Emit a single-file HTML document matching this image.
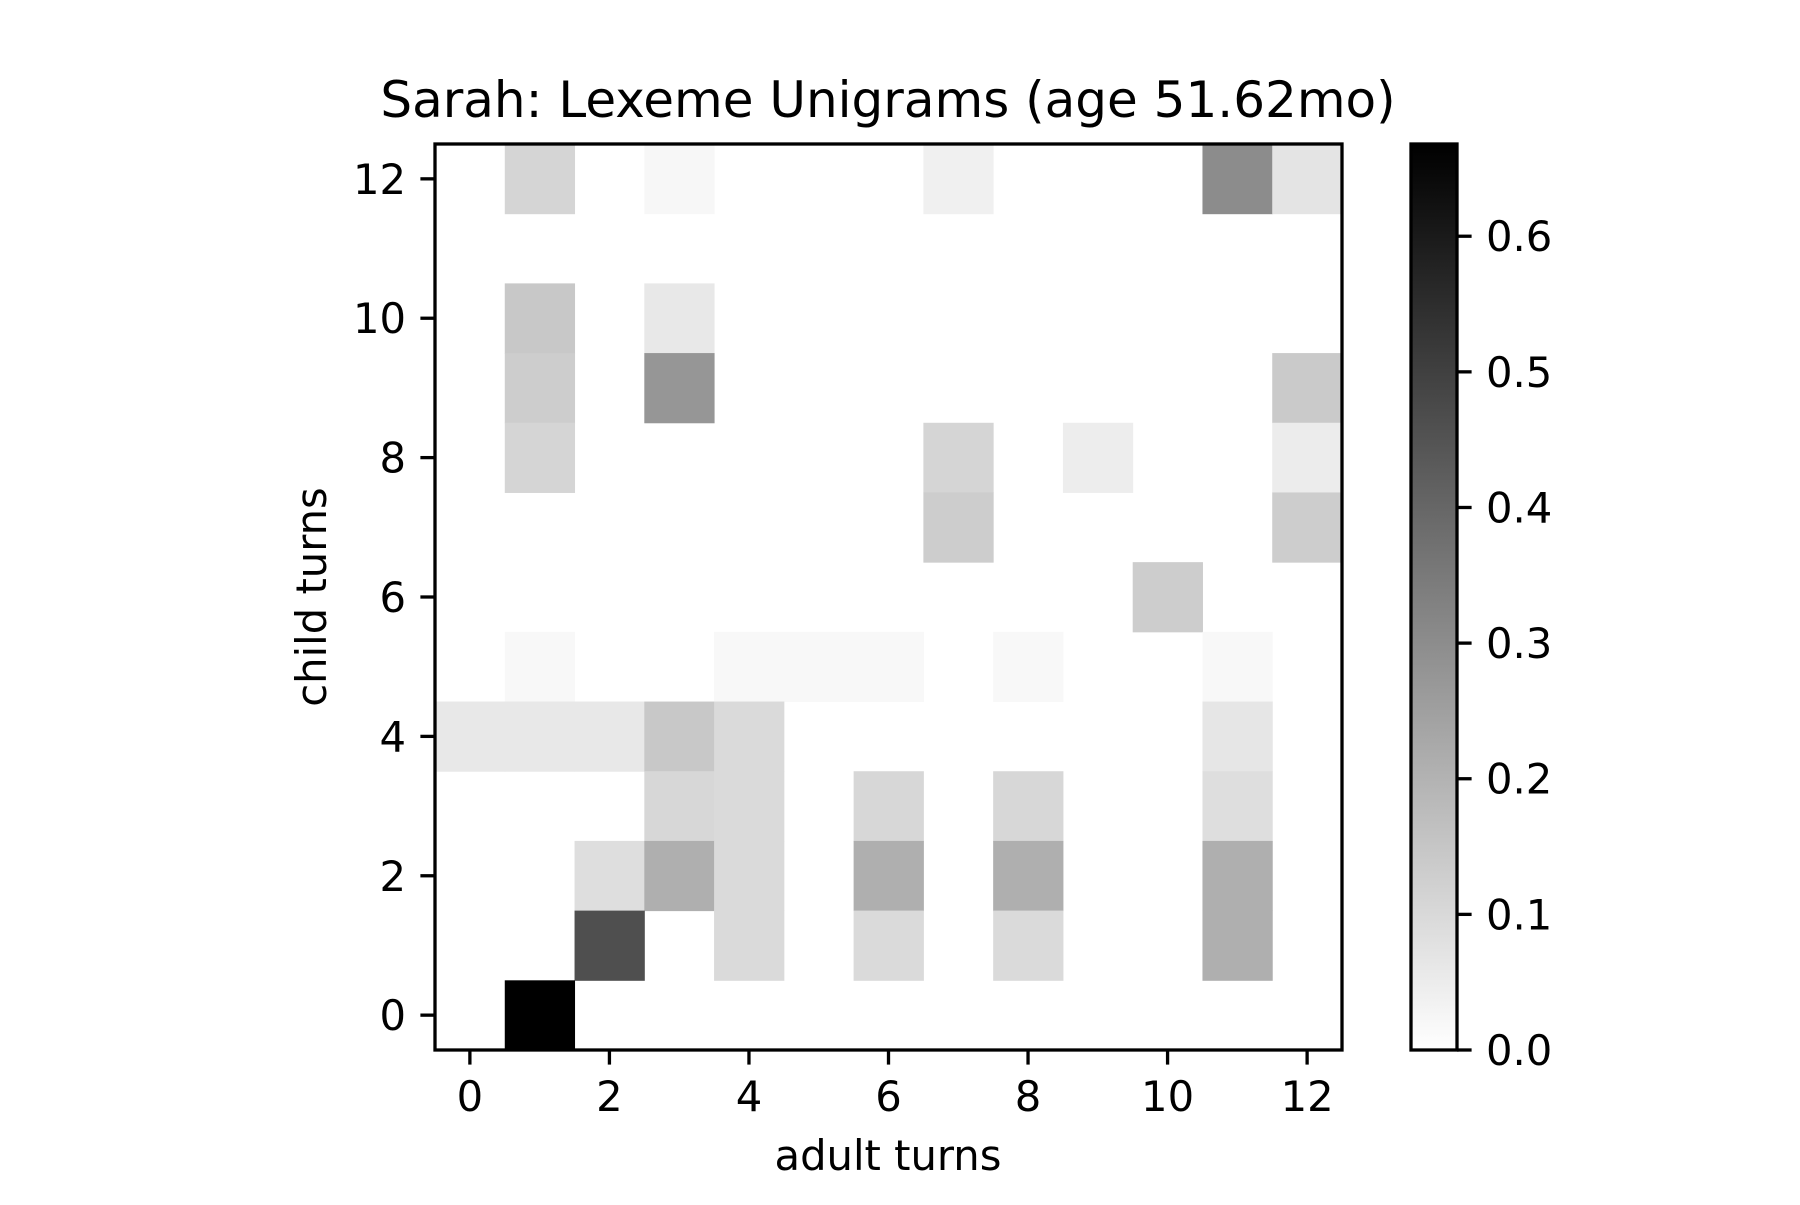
<!DOCTYPE html>
<html><head><meta charset="utf-8"><style>
html,body{margin:0;padding:0;background:#fff;}
text{font-family:"DejaVu Sans","Liberation Sans",sans-serif;fill:#000;}
</style></head><body>
<svg id="chart" width="1800" height="1200" viewBox="0 0 1800 1200" xmlns="http://www.w3.org/2000/svg">
<defs><linearGradient id="cbgrad" x1="0" y1="1" x2="0" y2="0"><stop offset="0" stop-color="#fff"/><stop offset="1" stop-color="#000"/></linearGradient></defs>
<text x="888" y="117" font-size="50" text-anchor="middle">Sarah: Lexeme Unigrams (age 51.62mo)</text>
<g id="cells"></g><g id="axes"></g>
<rect x="1411" y="144" width="46" height="906" fill="url(#cbgrad)" stroke="#000" stroke-width="3.3"/>
<g id="cbaxis"></g>
<text x="888" y="1170" font-size="41.7" text-anchor="middle">adult turns</text>
<text transform="translate(326,597) rotate(-90)" font-size="41.7" text-anchor="middle">child turns</text>
</svg>
<script>
// cells: [col (adult turn), row (child turn), value]
const cellCols = [1,3,7,11,12, 1,3, 1,3,12, 1,7,9,12, 7,12, 10, 1,4,5,6,8,11, 0,1,2,3,4,11, 3,4,6,8,11, 2,3,4,6,8,11, 2,4,6,8,11, 1];
const cellRows = [12,12,12,12,12, 10,10, 9,9,9, 8,8,8,8, 7,7, 6, 5,5,5,5,5,5, 4,4,4,4,4,4, 3,3,3,3,3, 2,2,2,2,2,2, 1,1,1,1,1, 0];
const cellValues = [0.11,0.02,0.04,0.30,0.07, 0.145,0.06, 0.13,0.275,0.14, 0.11,0.11,0.047,0.05, 0.13,0.13, 0.13, 0.018,0.018,0.018,0.018,0.018,0.018, 0.06,0.06,0.06,0.145,0.097,0.065, 0.105,0.097,0.105,0.105,0.086, 0.086,0.21,0.097,0.21,0.21,0.21, 0.46,0.097,0.097,0.097,0.21, 0.668];
const xTicks = [0,2,4,6,8,10,12];
const yTicks = [0,2,4,6,8,10,12];
const cbTicks = [0.0,0.1,0.2,0.3,0.4,0.5,0.6];
const cbTickLabels = ["0.0","0.1","0.2","0.3","0.4","0.5","0.6"];
const vmax = 0.668;

const NS="http://www.w3.org/2000/svg";
const L=435,R=1342,T=144,B=1050;
const cw=(R-L)/13, ch=(B-T)/13;
const xs=v=>L+(v+0.5)*cw;
const ys=v=>B-(v+0.5)*ch;
const cbY=v=>B-v/vmax*(B-T);
function mk(tag,attrs,parent){const e=document.createElementNS(NS,tag);for(const k in attrs)e.setAttribute(k,attrs[k]);parent.appendChild(e);return e;}
const cells=document.getElementById('cells');
for(let i=0;i<cellValues.length;i++){
  const g=Math.round(255*(1-Math.min(cellValues[i],vmax)/vmax));
  const r=mk('rect',{x:xs(cellCols[i])-cw/2,y:ys(cellRows[i])-ch/2,width:cw+0.5,height:ch+0.5,fill:`rgb(${g},${g},${g})`},cells);
  
  
}
const ax=document.getElementById('axes');
const frame=mk('rect',{x:L,y:T,width:R-L,height:B-T,fill:'none',stroke:'#000','stroke-width':3.3},ax);


xTicks.forEach(t=>{
  const x=xs(t);
  mk('line',{x1:x,x2:x,y1:B,y2:B+14.6,stroke:'#000','stroke-width':3.3},ax);
  const tx=mk('text',{x:x,y:1111,'font-size':41.7,'text-anchor':'middle'},ax);
  tx.textContent=t;
  
  
});
yTicks.forEach(t=>{
  const y=ys(t);
  mk('line',{x1:L-14.6,x2:L,y1:y,y2:y,stroke:'#000','stroke-width':3.3},ax);
  const tx=mk('text',{x:406,y:y+15,'font-size':41.7,'text-anchor':'end'},ax);
  tx.textContent=t;
  
  
});
const cb=document.getElementById('cbaxis');
cbTicks.forEach((t,i)=>{
  const y=cbY(t);
  mk('line',{x1:1457,x2:1471.6,y1:y,y2:y,stroke:'#000','stroke-width':3.3},cb);
  const tx=mk('text',{x:1486,y:y+15,'font-size':41.7},cb);
  tx.textContent=cbTickLabels[i];
  
  
});
</script>
</body></html>
